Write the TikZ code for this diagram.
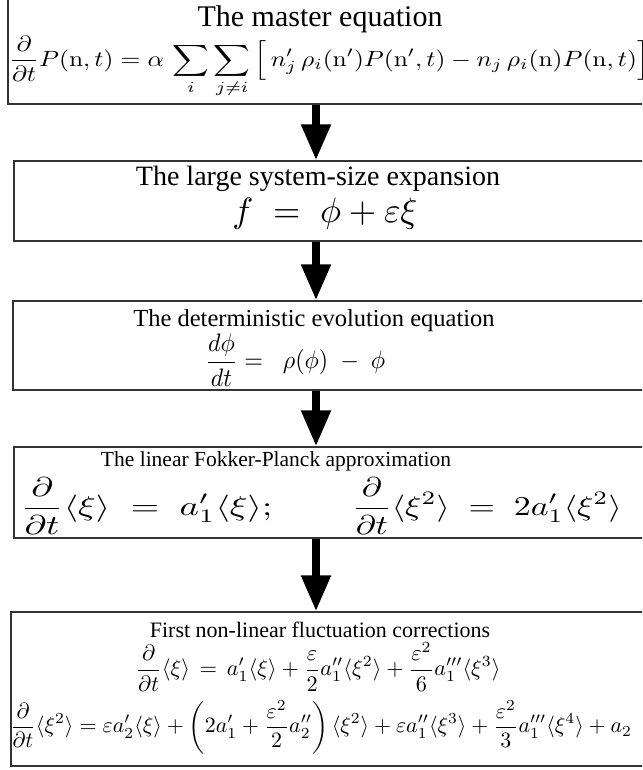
\documentclass[tikz,border=0pt]{standalone}
\usepackage{amsmath}
\usepackage{graphicx}
\usepackage[no-math]{fontspec}
\setmainfont{Liberation Serif}
\usetikzlibrary{arrows.meta}
\begin{document}
\begin{tikzpicture}[x=1pt,y=-1pt,
  box/.style={draw=black!80,line width=1.3pt,rectangle,inner sep=0pt},
  ttl/.style={font=\fontsize{#1}{#1}\selectfont,inner sep=0pt,anchor=center},
  eqn/.style={inner sep=0pt,anchor=center},
  bigarrow/.style={-{Triangle[width=28pt,length=36pt]},line width=8pt}]
\useasboundingbox (0,0) rectangle (642,770);
\fill[white] (0,0) rectangle (642,770);
\clip (0,0) rectangle (642,770);
% boxes
\node[box,minimum width=652pt,minimum height=114pt] (b1) at (334,47) {};
\node[box,minimum width=646pt,minimum height=80pt] (b2) at (337,201) {};
\node[box,minimum width=647pt,minimum height=89pt] (b3) at (336.5,345.5) {};
\node[box,minimum width=646pt,minimum height=91pt] (b4) at (337,492.5) {};
\node[box,minimum width=649pt,minimum height=154pt] (b5) at (335.5,689) {};
% titles
\node[ttl=30] (t1) at (320,19) {The master equation};
\node[ttl=28] (t2) at (318,179) {The large system-size expansion};
\node[ttl=24.5] (t3) at (314,321) {The deterministic evolution equation};
\node[ttl=21.5] (t4) at (276,461) {The linear Fokker-Planck approximation};
\node[ttl=22] (t5) at (320,630) {First non-linear fluctuation corrections};
% formulas
\node[eqn] (e1) at (329,67) {\resizebox*{640pt}{62pt}{$\displaystyle \frac{\partial}{\partial t}P(\mathrm{n},t)= \alpha\,\sum_i\sum_{j\neq i}\Big[\,n'_j\,\rho_i(\mathrm{n}')P(\mathrm{n}',t)-n_j\,\rho_i(\mathrm{n})P(\mathrm{n},t)\Big]$}};
\node[eqn] (e2) at (325,214) {\resizebox{185pt}{!}{$f\;=\;\phi+\varepsilon\xi$}};
\node[eqn,anchor=west] (e3) at (205,360) {\resizebox*{180pt}{52pt}{$\displaystyle \frac{d\phi}{dt}=\;\;\rho(\phi)\;-\;\phi$}};
\node[eqn,anchor=west] (e4a) at (20,506) {\resizebox*{252pt}{56pt}{$\displaystyle \frac{\partial}{\partial t}\langle\xi\rangle\;=\;a'_1\langle\xi\rangle;$}};
\node[eqn,anchor=east] (e4b) at (622,506) {\resizebox*{270pt}{56pt}{$\displaystyle \frac{\partial}{\partial t}\langle\xi^2\rangle\;=\;2a'_1\langle\xi^2\rangle$}};
\node[eqn] (e5) at (318,667) {\resizebox{365pt}{!}{$\displaystyle \frac{\partial}{\partial t}\langle\xi\rangle\,=\,a'_1\langle\xi\rangle+\frac{\varepsilon}{2}a''_1\langle\xi^2\rangle+\frac{\varepsilon^2}{6}a'''_1\langle\xi^3\rangle$}};
\node[eqn] (e6) at (321,727) {\resizebox{622pt}{!}{$\displaystyle \frac{\partial}{\partial t}\langle\xi^2\rangle=\varepsilon a'_2\langle\xi\rangle+\left(2a'_1+\frac{\varepsilon^2}{2}a''_2\right)\langle\xi^2\rangle+\varepsilon a''_1\langle\xi^3\rangle+\frac{\varepsilon^2}{3}a'''_1\langle\xi^4\rangle+a_2$}};
% arrows
\draw[bigarrow] (316,0 |- b1.south) -- (316,0 |- b2.north);
\draw[bigarrow] (316,0 |- b2.south) -- (316,0 |- b3.north);
\draw[bigarrow] (316,0 |- b3.south) -- (316,0 |- b4.north);
\draw[bigarrow] (316,0 |- b4.south) -- (316,0 |- b5.north);
\end{tikzpicture}
\end{document}
